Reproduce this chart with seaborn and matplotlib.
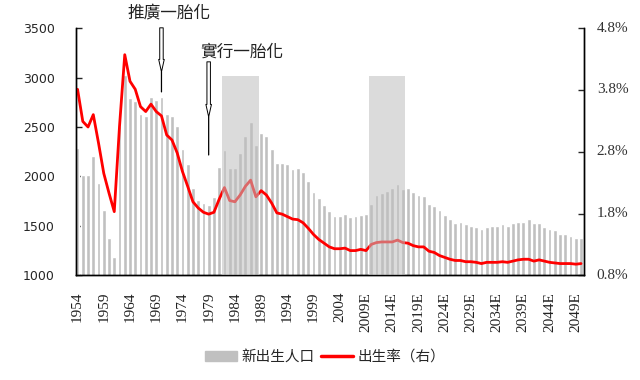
import numpy as np
import matplotlib
matplotlib.use('Agg')
import matplotlib.pyplot as plt
from matplotlib.patches import Rectangle, Patch
from matplotlib.lines import Line2D
import seaborn as sns

# data
years = list(range(1954, 2051))
births = [2290, 2015, 2015, 2205, 1930, 1660, 1380, 1185, 2510, 3030,
          2790, 2760, 2635, 2610, 2800, 2770, 2800, 2635, 2610, 2510,
          2275, 2125, 1880, 1760, 1733, 1710, 1794, 2100, 2268, 2083,
          2083, 2235, 2410, 2555, 2319, 2437, 2410, 2275, 2140, 2140,
          2123, 2076, 2083, 2049, 1954, 1846, 1779, 1711, 1651, 1603,
          1603, 1620, 1587, 1603, 1610, 1620, 1722, 1813, 1836, 1853,
          1887, 1924, 1875, 1882, 1842, 1817, 1798, 1725, 1700, 1658,
          1613, 1567, 1530, 1543, 1516, 1499, 1493, 1466, 1493, 1503,
          1503, 1520, 1499, 1533, 1543, 1543, 1566, 1533, 1526, 1493,
          1469, 1459, 1418, 1418, 1398, 1381, 1381]
rates = [3.81, 3.29, 3.20, 3.40, 2.94, 2.45, 2.13, 1.83, 3.21, 4.37,
         3.94, 3.81, 3.53, 3.45, 3.57, 3.45, 3.38, 3.07, 2.99, 2.78,
         2.48, 2.24, 1.99, 1.89, 1.82, 1.79, 1.82, 2.03, 2.22, 2.01,
         1.99, 2.10, 2.24, 2.34, 2.07, 2.17, 2.10, 1.97, 1.81, 1.79,
         1.75, 1.71, 1.70, 1.65, 1.56, 1.46, 1.38, 1.32, 1.26, 1.23,
         1.23, 1.24, 1.20, 1.20, 1.22, 1.20, 1.30, 1.33, 1.34, 1.34,
         1.34, 1.37, 1.33, 1.32, 1.28, 1.26, 1.26, 1.19, 1.17, 1.12,
         1.09, 1.06, 1.04, 1.04, 1.02, 1.02, 1.01, 0.99, 1.01, 1.01,
         1.01, 1.02, 1.01, 1.03, 1.05, 1.06, 1.06, 1.03, 1.05, 1.03,
         1.01, 1.00, 0.99, 0.99, 0.99, 0.98, 0.99]
tick_labels = ['1954', '1959', '1964', '1969', '1974', '1979', '1984', '1989',
               '1994', '1999', '2004', '2009E', '2014E', '2019E', '2024E',
               '2029E', '2034E', '2039E', '2044E', '2049E']
left_ticks = [1000, 1500, 2000, 2500, 3000, 3500]
right_ticks = [0.8, 1.8, 2.8, 3.8, 4.8]
shade_spans = [(1982, 1988), (2010, 2016)]
shade_top = 3020
notes = ['推廣一胎化', '實行一胎化']
note_years = [1970, 1979]

sns.set_style('white')
plt.rcParams['font.family'] = ['DejaVu Sans', 'Noto Sans CJK TC']
plt.rcParams['font.serif'] = ['Liberation Serif', 'DejaVu Serif']
cjk = ['Noto Sans CJK TC', 'DejaVu Sans']

fig = plt.figure(figsize=(6.4, 3.8), dpi=100)
ax = fig.add_axes([0.1183, 0.2755, 0.7947, 0.6505])

sns.barplot(x=[str(y) for y in years], y=births, color='#c0c0c0',
            saturation=1, width=0.72, ax=ax)
ax.set_ylim(1000, 3500)
ax.set_xlim(-0.35, len(years) - 0.38)
ax.set_yticks(left_ticks)
ax.set_yticklabels([str(v) for v in left_ticks])
ax.set_xticks(np.arange(4.5, len(years), 5), minor=True)
ax.tick_params(axis='x', which='minor', direction='in', length=4, width=1)
ax.tick_params(axis='y', direction='in', length=4, width=1, pad=15, left=True,
               labelsize=9)
ax.set_xticks([])
ax.set_xlabel('')
ax.set_ylabel('')

# year labels as plain texts under the axis
for i, lab in zip(range(0, len(years), 5), tick_labels):
    ax.annotate(lab, xy=(i, 0), xycoords=('data', 'axes fraction'),
                xytext=(0, -12), textcoords='offset points', rotation=90,
                ha='center', va='top', family='serif', fontsize=11,
                color='#222222', annotation_clip=False)

ax2 = ax.twinx()
sns.lineplot(x=np.arange(len(years)), y=rates, color='red', lw=2, ax=ax2)
ax2.set_ylim(0.8, 4.8)
ax2.set_yticks(right_ticks)
ax2.set_yticklabels([])
ax2.tick_params(axis='y', direction='in', length=4, width=1, right=True)
ax2.set_xlim(ax.get_xlim())
for v in right_ticks:
    ax2.annotate('%.1f%%' % v, xy=(1, v), xycoords=('axes fraction', 'data'),
                 xytext=(9, 0), textcoords='offset points', ha='left',
                 va='center', family='serif', fontsize=11, color='#333333',
                 annotation_clip=False)

for a in (ax, ax2):
    a.spines['top'].set_visible(False)
    for s in ('left', 'right', 'bottom'):
        a.spines[s].set_color('black')
        a.spines[s].set_linewidth(1)

# shaded periods drawn over bars and line
for y0, y1 in shade_spans:
    i0 = years.index(y0)
    ax2.add_patch(Rectangle((i0 - 0.5, 1000), y1 - y0 + 1, shade_top - 1000,
                            transform=ax.transData, fc='#bfbfbf', alpha=0.55,
                            lw=0, zorder=5))

# policy notes with arrows
arrow_geo = [(3503, 3057, 2855), (3159, 2602, 2217)]
text_pos = [(1.4, 3644), (6.4, 3255)]
for note, yr, (top, head, end), (dx, ty) in zip(notes, note_years, arrow_geo, text_pos):
    x = years.index(yr)
    ax.annotate('', xy=(x, head), xytext=(x, top), annotation_clip=False,
                arrowprops=dict(arrowstyle='simple,head_length=0.9,head_width=0.4,tail_width=0.25',
                                fc='white', ec='black', lw=0.7, shrinkA=0, shrinkB=0))
    ax.annotate('', xy=(x, end), xytext=(x, head), annotation_clip=False,
                arrowprops=dict(arrowstyle='-', color='black', lw=0.9, shrinkA=0, shrinkB=0))
    ax.text(x + dx, ty, note, ha='center', va='center', fontsize=12,
            family=cjk, color='#222222', clip_on=False)

handles = [Patch(color='#c0c0c0'), Line2D([0], [0], color='red', lw=2.5)]
fig.legend(handles, ['新出生人口', '出生率（右）'], loc='center',
           bbox_to_anchor=(325 / 640, 1 - 357 / 380), ncol=2, frameon=False,
           prop={'family': cjk, 'size': 10.5}, handlelength=2.2,
           handletextpad=0.3, columnspacing=0.4)

fig.savefig('out.png', dpi=100)
